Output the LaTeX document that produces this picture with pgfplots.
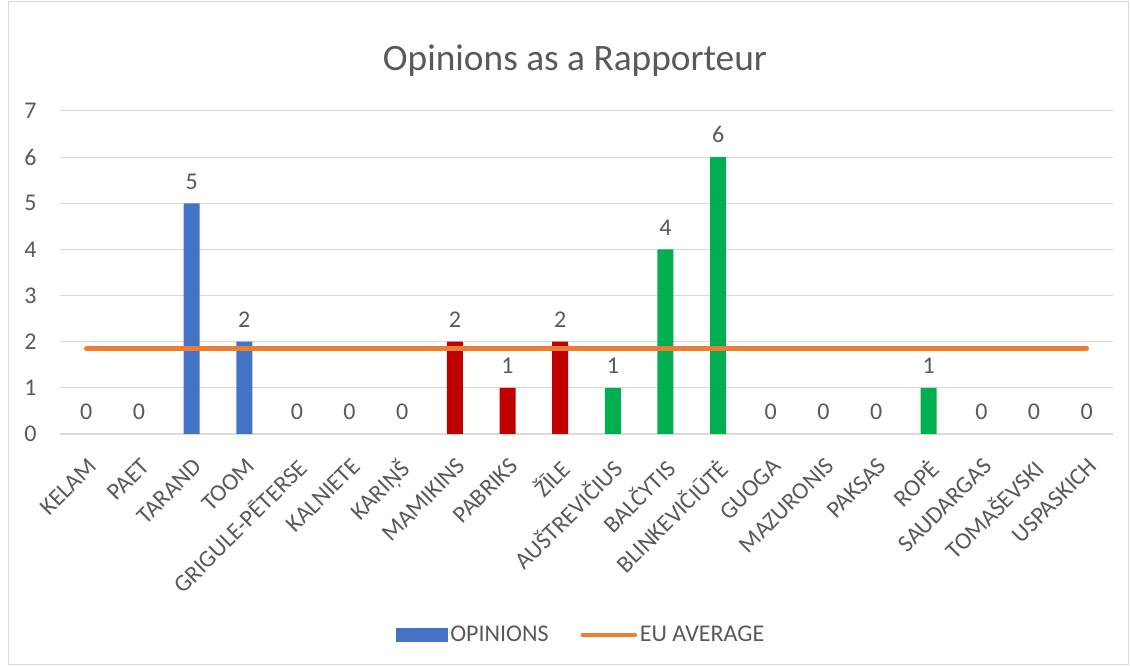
\documentclass[border=0pt]{standalone}
\usepackage{fontspec}
\setmainfont{Carlito}
\usepackage{graphicx}
\usepackage{pgfplots}
\pgfplotsset{compat=1.18}

\definecolor{txt}{HTML}{595959}
\definecolor{gridc}{HTML}{D9D9D9}
\definecolor{estblue}{HTML}{4472C4}
\definecolor{latred}{HTML}{C00000}
\definecolor{litgreen}{HTML}{00B050}
\definecolor{euorange}{HTML}{ED7D31}

% slanted member name for the category axis
\newcommand{\rl}[1]{\rotatebox{45}{#1}}

% all members, in order; value = opinions as rapporteur
\pgfplotstableread{
x y
0 0
1 0
2 5
3 2
4 0
5 0
6 0
7 2
8 1
9 2
10 1
11 4
12 6
13 0
14 0
15 0
16 1
17 0
18 0
19 0
}\allmembers

\begin{document}
\begin{tikzpicture}
\useasboundingbox (-45pt,-174pt) rectangle (802.5pt,325.5pt);
\draw[gridc, line width=0.75pt] (-38.25pt,-172.5pt) rectangle (801pt,324pt);
\node[font=\fontsize{28}{34}\selectfont, text=txt] at (386.25pt,280pt) {Opinions as a Rapporteur};
\begin{axis}[
  at={(0pt,0pt)}, anchor=south west,
  scale only axis,
  width=789.75pt, height=242.25pt,
  xmin=-0.5, xmax=19.5,
  ymin=0, ymax=7,
  ytick={0,1,...,7},
  xtick={0,1,...,19},
  xticklabels={\rl{KELAM}, \rl{PAET}, \rl{TARAND}, \rl{TOOM}, \rl{GRIGULE-PĒTERSE}, \rl{KALNIETE}, \rl{KARIŅŠ}, \rl{MAMIKINS}, \rl{PABRIKS}, \rl{ŽĪLE}, \rl{AUŠTREVIČIUS}, \rl{BALČYTIS}, \rl{BLINKEVIČIŪTĖ}, \rl{GUOGA}, \rl{MAZURONIS}, \rl{PAKSAS}, \rl{ROPĖ}, \rl{SAUDARGAS}, \rl{TOMAŠEVSKI}, \rl{USPASKICH}},
  major tick length=0pt,
  axis lines*=left,
  y axis line style={draw=none},
  x axis line style={gridc, line width=1pt},
  ymajorgrids,
  grid style={gridc, line width=0.75pt},
  tick label style={font=\fontsize{18}{22}\selectfont, text=txt},
  /pgf/number format/assume math mode=true,
  yticklabel style={xshift=-14pt},
  xticklabel style={anchor=north east, inner sep=0pt, xshift=9pt},
  xticklabel shift=17pt,
  legend style={draw=none, fill=none, at={(0.495,-0.622)}, anchor=center,
    legend columns=2, font=\fontsize{18}{22}\selectfont, text=txt,
    /tikz/every even column/.append style={column sep=22pt},
    legend cell align=left},
]
% value labels above every member
\addplot[ybar, bar width=12pt, bar shift=0pt, draw=none, fill=none,
  nodes near coords, point meta=y,
  nodes near coords style={font=\fontsize{18}{22}\selectfont, text=txt, anchor=south, yshift=7pt},
  forget plot] table[x=x, y=y] {\allmembers};
% Estonia
\addplot[ybar, bar width=12pt, bar shift=0pt, draw=none, fill=estblue,
  legend image code/.code={\fill[estblue] (0pt,-5.25pt) rectangle (39pt,5.25pt);}]
  coordinates {(2,5) (3,2)};
\addlegendentry{OPINIONS}
% Latvia
\addplot[ybar, bar width=12pt, bar shift=0pt, draw=none, fill=latred, forget plot]
  coordinates {(7,2) (8,1) (9,2)};
% Lithuania
\addplot[ybar, bar width=12pt, bar shift=0pt, draw=none, fill=litgreen, forget plot]
  coordinates {(10,1) (11,4) (12,6) (16,1)};
% EU average
\addplot[euorange, line width=3.5pt, line cap=round,
  legend image code/.code={\draw[euorange, line width=3.5pt, line cap=round] (2pt,0pt) -- (41pt,0pt);}]
  coordinates {(0,1.86) (19,1.86)};
\addlegendentry{EU AVERAGE}
\end{axis}
\end{tikzpicture}
\end{document}
